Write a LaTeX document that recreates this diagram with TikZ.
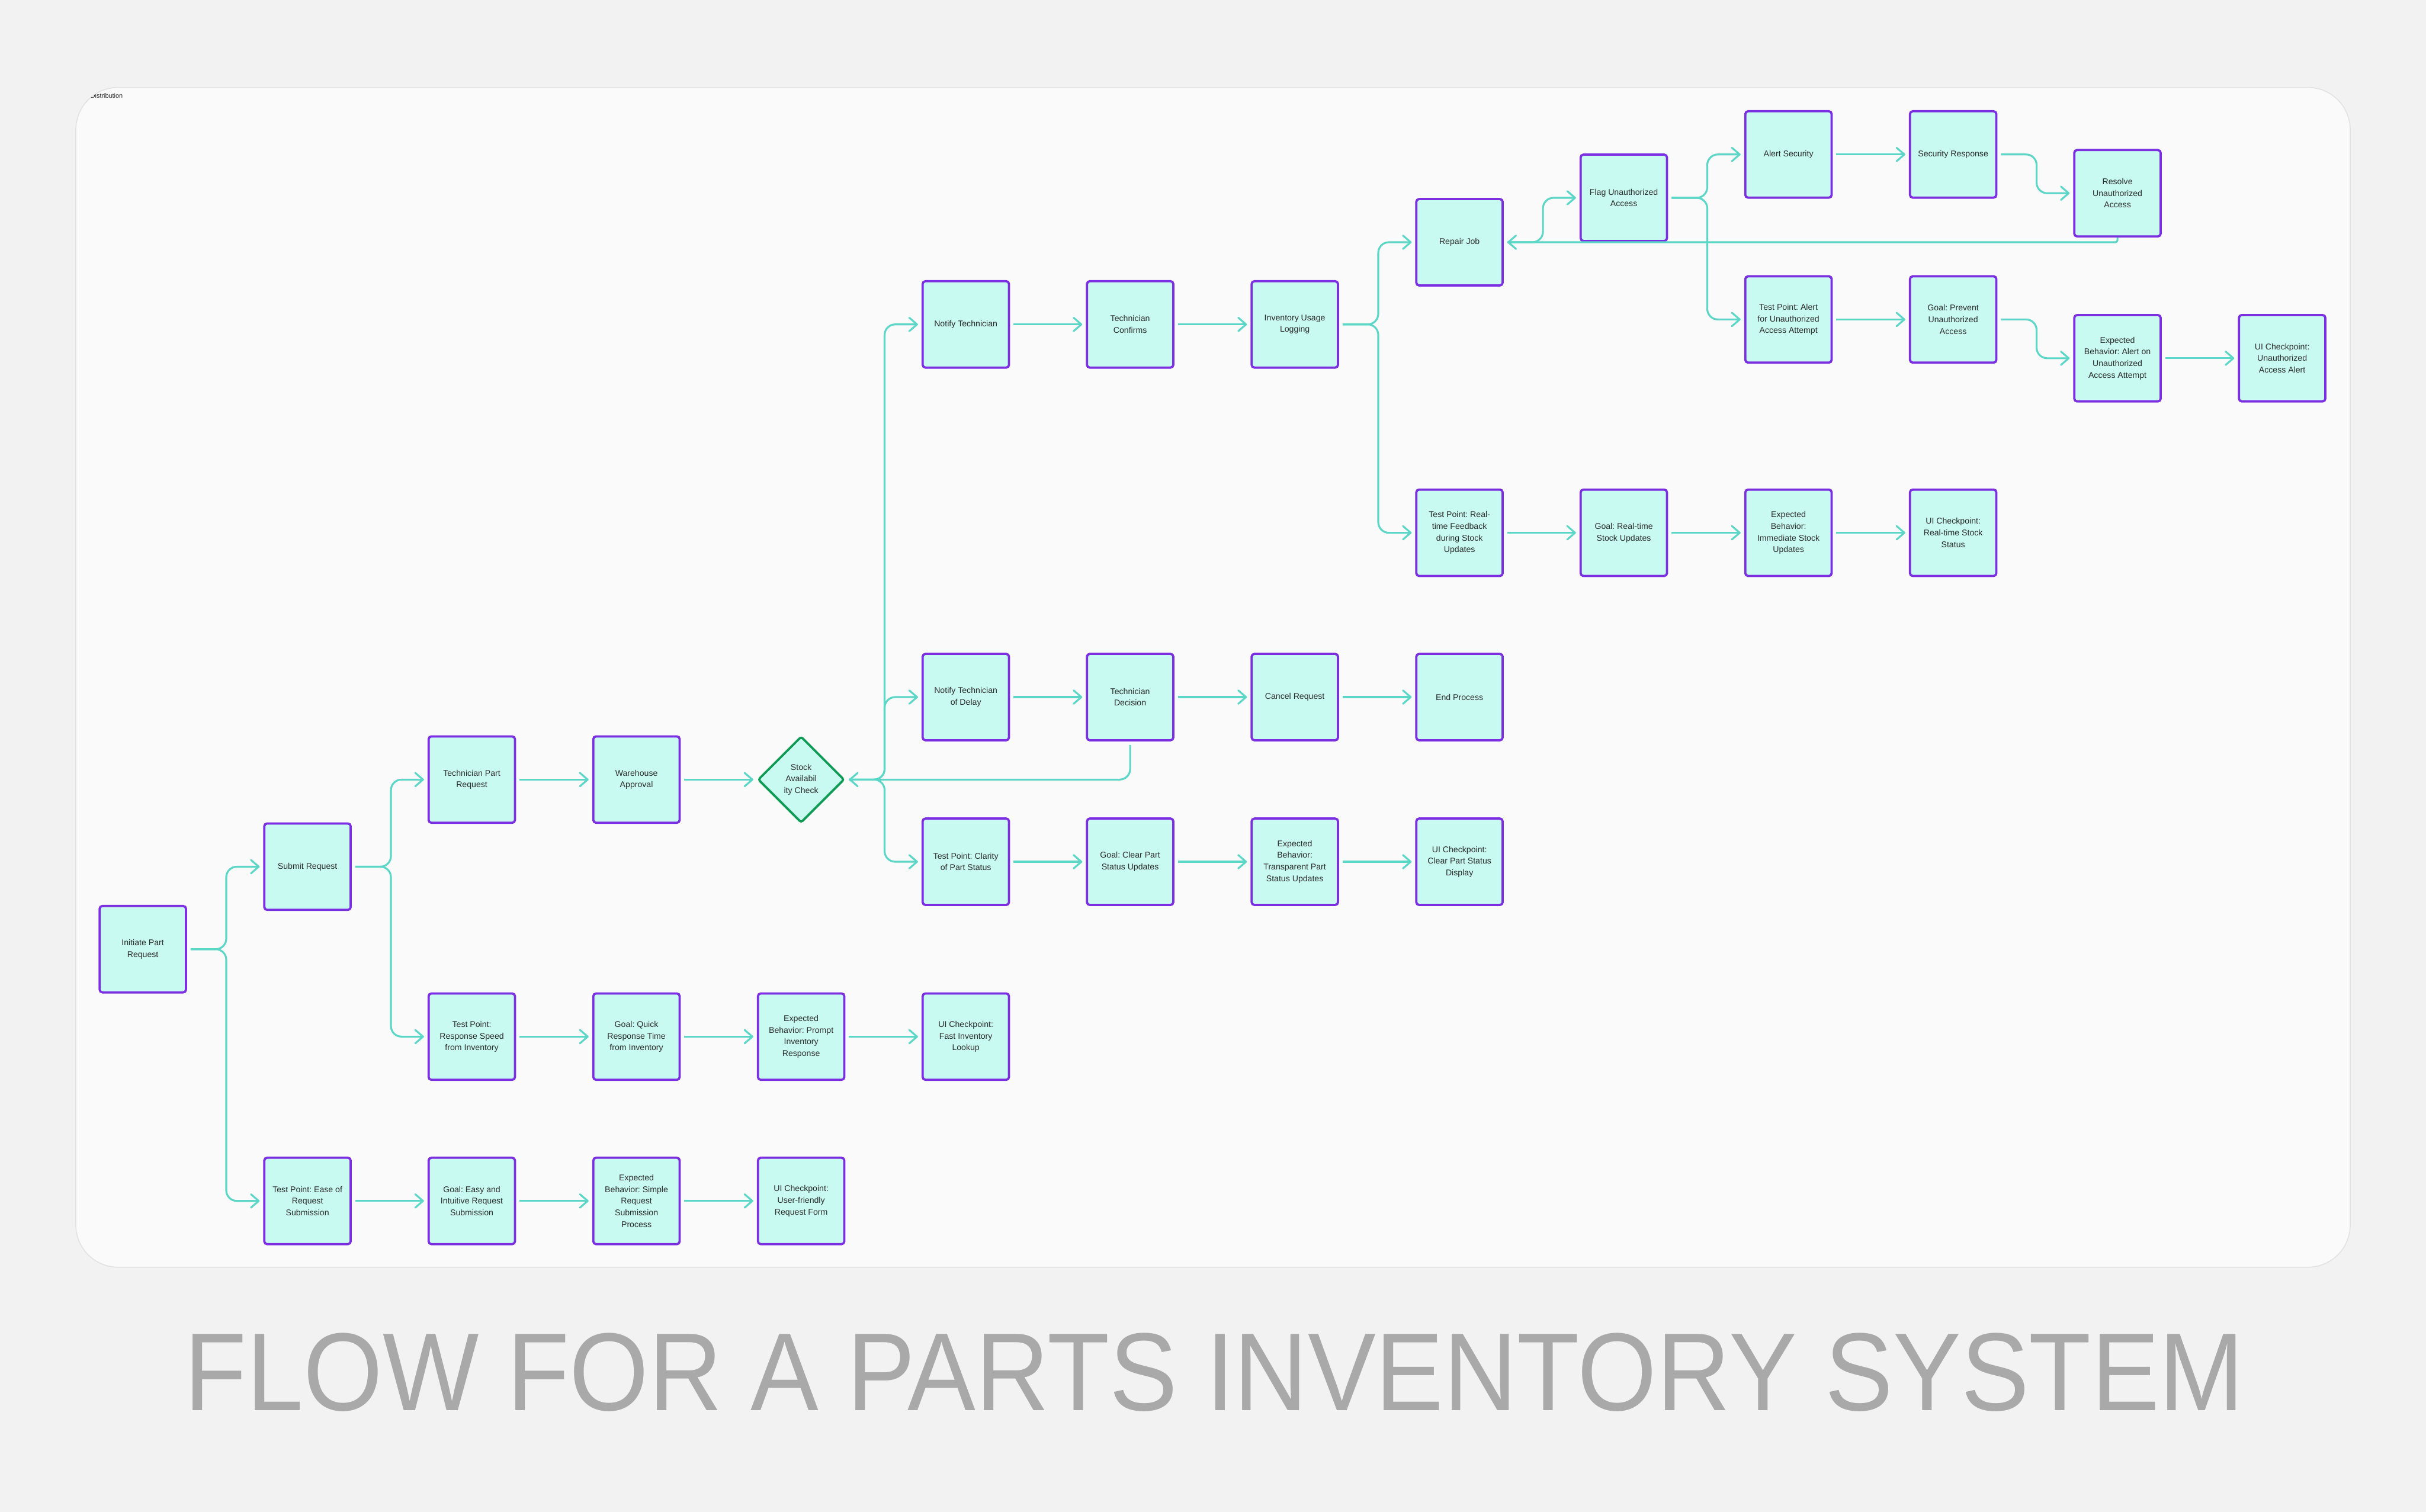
\documentclass[tikz,border=0pt]{standalone}
\usepackage{graphicx}
\usepackage{fontspec}
\setmainfont{Liberation Sans}
\usetikzlibrary{arrows.meta,shapes.geometric}
\frenchspacing

\definecolor{pagebg}{HTML}{F2F2F2}
\definecolor{panelbg}{HTML}{FAFAFA}
\definecolor{panelline}{HTML}{E3E3E3}
\definecolor{boxfill}{HTML}{C8FAF2}
\definecolor{boxline}{HTML}{7B2FE0}
\definecolor{checkline}{HTML}{0E9A55}
\definecolor{linkcol}{HTML}{5CD6C6}
\definecolor{txt}{HTML}{2A2A2A}
\definecolor{titlecol}{HTML}{A9A9A9}

\begin{document}
\begin{tikzpicture}[
  y=-1cm,
  box/.style={draw=boxline, fill=boxfill, line width=1.8pt, rounded corners=0.8mm,
    minimum width=2.45cm, minimum height=2.45cm, inner sep=0pt, align=center,
    text=txt, font=\fontsize{6.75}{9.4}\selectfont},
  check/.style={box, diamond, draw=checkline, rounded corners=0.6mm},
  link/.style={draw=linkcol, line width=1.5pt, rounded corners=3mm,
    shorten <=1mm, shorten >=1mm,
    -{Straight Barb[length=2.2mm,width=3.8mm,round]}}
]
  \useasboundingbox (0,0) rectangle (68.8,42.88);
  \fill[pagebg] (0,0) rectangle (68.8,42.88);
  \draw[panelline, fill=panelbg, line width=0.8pt, rounded corners=12mm] (2.15,2.48) rectangle (66.65,35.94);
  \begin{scope}
    \clip[rounded corners=12mm] (2.15,2.48) rectangle (66.65,35.94);
    \node[anchor=base west, inner sep=0pt, text=black!85, font=\fontsize{5.2}{6}\selectfont] (tag) at (2.56,2.78) {Distribution};
  \end{scope}

  % request
  \node[box] (init) at (4.05,26.92) {Initiate Part\\Request};
  \node[box] (submit) at (8.72,24.58) {Submit Request};
  \node[box] (tpEase) at (8.72,34.06) {Test Point: Ease of\\Request\\Submission};
  \node[box] (goalEase) at (13.38,34.06) {Goal: Easy and\\Intuitive Request\\Submission};
  \node[box] (expEase) at (18.05,34.06) {Expected\\Behavior: Simple\\Request\\Submission\\Process};
  \node[box] (uiEase) at (22.72,34.06) {UI Checkpoint:\\User-friendly\\Request Form};
  \node[box] (techReq) at (13.38,22.11) {Technician Part\\Request};
  \node[box] (approval) at (18.05,22.11) {Warehouse\\Approval};
  \node[check] (stock) at (22.72,22.11) {Stock\\Availabil\\ity Check};
  \node[box] (tpSpeed) at (13.38,29.40) {Test Point:\\Response Speed\\from Inventory};
  \node[box] (goalSpeed) at (18.05,29.40) {Goal: Quick\\Response Time\\from Inventory};
  \node[box] (expSpeed) at (22.72,29.40) {Expected\\Behavior: Prompt\\Inventory\\Response};
  \node[box] (uiSpeed) at (27.39,29.40) {UI Checkpoint:\\Fast Inventory\\Lookup};

  % in stock
  \node[box] (notify) at (27.39,9.20) {Notify Technician};
  \node[box] (confirms) at (32.05,9.20) {Technician\\Confirms};
  \node[box] (usage) at (36.72,9.20) {Inventory Usage\\Logging};
  \node[box] (repair) at (41.39,6.87) {Repair Job};
  \node[box] (flag) at (46.05,5.61) {Flag Unauthorized\\Access};
  \node[box] (alertSec) at (50.72,4.38) {Alert Security};
  \node[box] (secResp) at (55.39,4.38) {Security Response};
  \node[box] (resolve) at (60.05,5.48) {Resolve\\Unauthorized\\Access};
  \node[box] (tpAlert) at (50.72,9.06) {Test Point: Alert\\for Unauthorized\\Access Attempt};
  \node[box] (goalPrevent) at (55.39,9.06) {Goal: Prevent\\Unauthorized\\Access};
  \node[box] (expAlert) at (60.05,10.16) {Expected\\Behavior: Alert on\\Unauthorized\\Access Attempt};
  \node[box] (uiAlert) at (64.72,10.16) {UI Checkpoint:\\Unauthorized\\Access Alert};
  \node[box] (tpFeed) at (41.39,15.11) {Test Point: Real-\\time Feedback\\during Stock\\Updates};
  \node[box] (goalFeed) at (46.05,15.11) {Goal: Real-time\\Stock Updates};
  \node[box] (expFeed) at (50.72,15.11) {Expected\\Behavior:\\Immediate Stock\\Updates};
  \node[box] (uiFeed) at (55.39,15.11) {UI Checkpoint:\\Real-time Stock\\Status};

  % out of stock
  \node[box] (delay) at (27.39,19.77) {Notify Technician\\of Delay};
  \node[box] (decide) at (32.05,19.77) {Technician\\Decision};
  \node[box] (cancel) at (36.72,19.77) {Cancel Request};
  \node[box] (endProc) at (41.39,19.77) {End Process};
  \node[box] (tpClarity) at (27.39,24.44) {Test Point: Clarity\\of Part Status};
  \node[box] (goalClarity) at (32.05,24.44) {Goal: Clear Part\\Status Updates};
  \node[box] (expClarity) at (36.72,24.44) {Expected\\Behavior:\\Transparent Part\\Status Updates};
  \node[box] (uiClarity) at (41.39,24.44) {UI Checkpoint:\\Clear Part Status\\Display};

  % straight links
  \foreach \a/\b in {tpEase/goalEase, goalEase/expEase, expEase/uiEase,
      techReq/approval, approval/stock, tpSpeed/goalSpeed, goalSpeed/expSpeed, expSpeed/uiSpeed,
      notify/confirms, confirms/usage, alertSec/secResp, tpAlert/goalPrevent, expAlert/uiAlert,
      tpFeed/goalFeed, goalFeed/expFeed, expFeed/uiFeed,
      delay/decide, decide/cancel, cancel/endProc,
      tpClarity/goalClarity, goalClarity/expClarity, expClarity/uiClarity}
    \draw[link] (\a) -- (\b);

  % branches
  \foreach \a/\b in {init/submit, init/tpEase, submit/techReq, submit/tpSpeed,
      stock/notify, stock/delay, stock/tpClarity, usage/repair, usage/tpFeed,
      repair/flag, flag/alertSec, flag/tpAlert, secResp/resolve, goalPrevent/expAlert}
    \draw[link] (\a.east) -- ++(1.11,0) |- (\b.west);

  % loops back
  \draw[link] (decide.south) |- (stock.east);
  \draw[link, shorten <=0pt, rounded corners=0.6mm] (resolve.south) |- (repair.east);

  \node[anchor=base, inner sep=0pt, text=titlecol] (heading) at (34.44,40.00)
    {\scalebox{0.92}[1]{\fontsize{89.4}{100}\selectfont FLOW FOR A PARTS INVENTORY SYSTEM}};
\end{tikzpicture}
\end{document}
